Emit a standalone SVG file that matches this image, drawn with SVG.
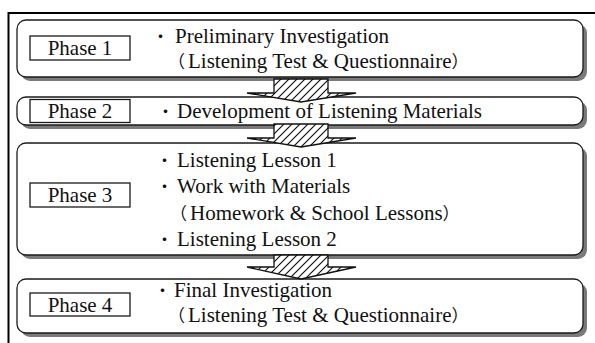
<svg xmlns="http://www.w3.org/2000/svg" width="595" height="343" viewBox="0 0 595 343">
  <style>
    .box { fill: #fff; stroke: #1a1a1a; stroke-width: 1.3; }
    .shadow { fill: #7a7a7a; }
    .label { fill: #fff; stroke: #1a1a1a; stroke-width: 1.3; }
    .t { font-family: "Liberation Serif", "Times New Roman", serif; font-size: 21px; fill: #111; }
    .cj { font-family: "Noto Sans CJK JP", "Liberation Serif", sans-serif; font-size: 17px; }
    .lt { text-anchor: middle; }
    .arrow { fill: url(#hatch); stroke: #111; stroke-width: 1.3; stroke-linejoin: miter; }
  </style>
  <defs>
    <pattern id="hatch" patternUnits="userSpaceOnUse" width="8" height="8">
      <rect width="8" height="8" fill="#fff"/>
      <path d="M-2,2 L2,-2 M0,8 L8,0 M6,10 L10,6" stroke="#111" stroke-width="1.2"/>
    </pattern>
  </defs>

  <rect width="595" height="343" fill="#fff"/>
  <!-- outer frame -->
  <rect x="8.5" y="13" width="600" height="340" fill="none" stroke="#000" stroke-width="2"/>

  <g id="phase1">
    <rect class="shadow" x="21" y="24" width="566" height="57" rx="9"/>
    <rect class="box" x="17" y="20" width="566" height="57" rx="9"/>
    <rect class="label" x="30" y="36" width="100" height="24"/>
    <text class="t lt" x="80" y="55">Phase 1</text>
    <text class="t" y="43"><tspan class="cj" x="152">・</tspan><tspan x="175">Preliminary Investigation</tspan></text>
    <text class="t" y="67.5"><tspan class="cj" x="168">（</tspan><tspan x="188">Listening Test &amp; Questionnaire</tspan><tspan class="cj">）</tspan></text>
  </g>

  <g id="phase2">
    <rect class="shadow" x="21" y="101" width="566" height="28" rx="9"/>
    <rect class="box" x="17" y="97" width="566" height="28" rx="9"/>
    <rect class="label" x="30" y="99.5" width="100" height="23"/>
    <text class="t lt" x="80" y="118">Phase 2</text>
    <text class="t" y="118"><tspan class="cj" x="157">・</tspan><tspan x="177">Development of Listening Materials</tspan></text>
  </g>

  <g id="phase3">
    <rect class="shadow" x="21" y="147" width="566" height="112" rx="9"/>
    <rect class="box" x="17" y="143" width="566" height="112" rx="9"/>
    <rect class="label" x="30" y="183" width="100" height="24"/>
    <text class="t lt" x="80" y="202">Phase 3</text>
    <text class="t" y="167"><tspan class="cj" x="156">・</tspan><tspan x="177">Listening Lesson 1</tspan></text>
    <text class="t" y="193"><tspan class="cj" x="156">・</tspan><tspan x="177">Work with Materials</tspan></text>
    <text class="t" y="220"><tspan class="cj" x="170">（</tspan><tspan x="190">Homework &amp; School Lessons</tspan><tspan class="cj">）</tspan></text>
    <text class="t" y="246"><tspan class="cj" x="156">・</tspan><tspan x="177">Listening Lesson 2</tspan></text>
  </g>

  <g id="phase4">
    <rect class="shadow" x="21" y="283" width="566" height="54" rx="9"/>
    <rect class="box" x="17" y="279" width="566" height="54" rx="9"/>
    <rect class="label" x="30" y="293" width="100" height="23"/>
    <text class="t lt" x="80" y="312">Phase 4</text>
    <text class="t" y="297"><tspan class="cj" x="154">・</tspan><tspan x="174">Final Investigation</tspan></text>
    <text class="t" y="322"><tspan class="cj" x="168">（</tspan><tspan x="188">Listening Test &amp; Questionnaire</tspan><tspan class="cj">）</tspan></text>
  </g>

  <!-- hatched block arrows between phases -->
  <g id="connectors">
    <path class="arrow" d="M274,79 H328 V93 H356 L301,102 L247,93 H274 Z"/>
    <path class="arrow" d="M274,124 H328 V138 H356 L301,147 L247,138 H274 Z"/>
    <path class="arrow" d="M274,255 H328 V267 H356 L301,279 L247,267 H274 Z"/>
  </g>
</svg>
